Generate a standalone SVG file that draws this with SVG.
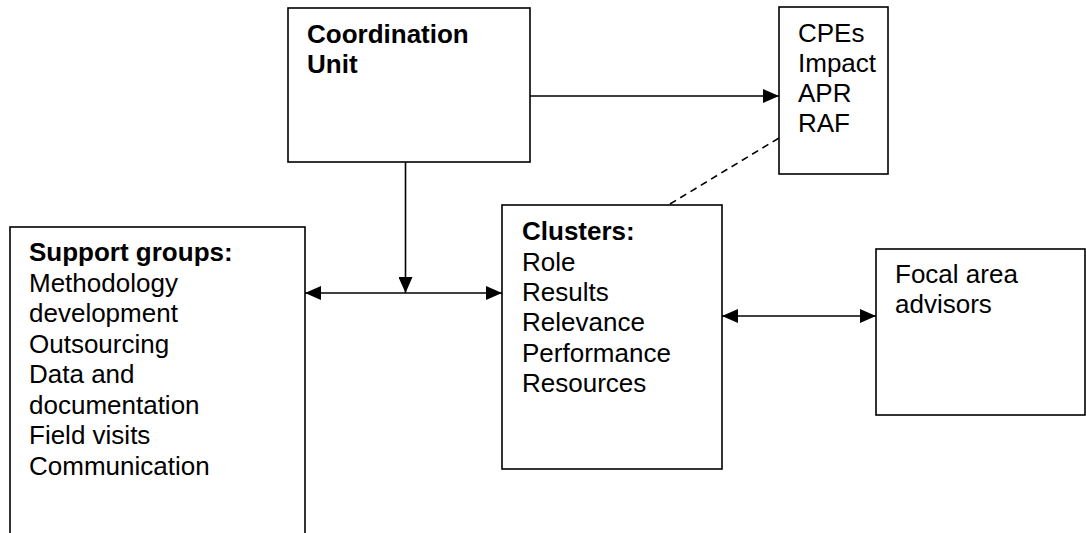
<svg xmlns="http://www.w3.org/2000/svg" width="1086" height="533" viewBox="0 0 1086 533">
<style>
.box{fill:#fff;stroke:#000;stroke-width:1.6}
.t{font-family:"Liberation Sans",Arial,sans-serif;font-size:26px;fill:#000}
.b{font-weight:bold}
.c{stroke:#000;stroke-width:1.6;fill:none}
.d{stroke:#000;stroke-width:1.6;fill:none;stroke-dasharray:7 5}
</style>
<defs>
<marker id="ah" viewBox="0 0 16 14" refX="16" refY="7" markerWidth="16" markerHeight="14" markerUnits="userSpaceOnUse" orient="auto-start-reverse">
<path d="M0,0 L16,7 L0,14 Z" fill="#000"/>
</marker>
</defs>
<g id="coordination-unit">
<rect class="box" x="288" y="8" width="242" height="154"/>
<text class="t b" x="307" y="43">Coordination</text>
<text class="t b" x="307" y="73">Unit</text>
</g>
<g id="cpes">
<rect class="box" x="779" y="7" width="109" height="167"/>
<text class="t" x="798" y="42">CPEs</text>
<text class="t" x="798" y="72">Impact</text>
<text class="t" x="798" y="102">APR</text>
<text class="t" x="798" y="132">RAF</text>
</g>
<g id="support-groups">
<rect class="box" x="10" y="227" width="295" height="320"/>
<text class="t" x="29" y="261"><tspan class="b">Support groups:</tspan></text>
<text class="t" x="29" y="291.5">Methodology</text>
<text class="t" x="29" y="322">development</text>
<text class="t" x="29" y="352.5">Outsourcing</text>
<text class="t" x="29" y="383">Data and</text>
<text class="t" x="29" y="413.5">documentation</text>
<text class="t" x="29" y="444">Field visits</text>
<text class="t" x="29" y="474.5">Communication</text>
</g>
<g id="clusters">
<rect class="box" x="502" y="205" width="220" height="264"/>
<text class="t b" x="522" y="240">Clusters:</text>
<text class="t" x="522" y="270.5">Role</text>
<text class="t" x="522" y="300.5">Results</text>
<text class="t" x="522" y="331">Relevance</text>
<text class="t" x="522" y="361.5">Performance</text>
<text class="t" x="522" y="391.5">Resources</text>
</g>
<g id="focal-area-advisors">
<rect class="box" x="876" y="249" width="209" height="166"/>
<text class="t" x="895" y="283">Focal area</text>
<text class="t" x="895" y="313">advisors</text>
</g>
<g id="connectors">
<line class="c" x1="530" y1="96" x2="779" y2="96" marker-end="url(#ah)"/>
<line class="d" x1="670" y1="204" x2="779" y2="138"/>
<line class="c" x1="405.5" y1="162" x2="405.5" y2="293" marker-end="url(#ah)"/>
<line class="c" x1="305" y1="293" x2="502" y2="293" marker-start="url(#ah)" marker-end="url(#ah)"/>
<line class="c" x1="722" y1="316" x2="876" y2="316" marker-start="url(#ah)" marker-end="url(#ah)"/>
</g>
</svg>
